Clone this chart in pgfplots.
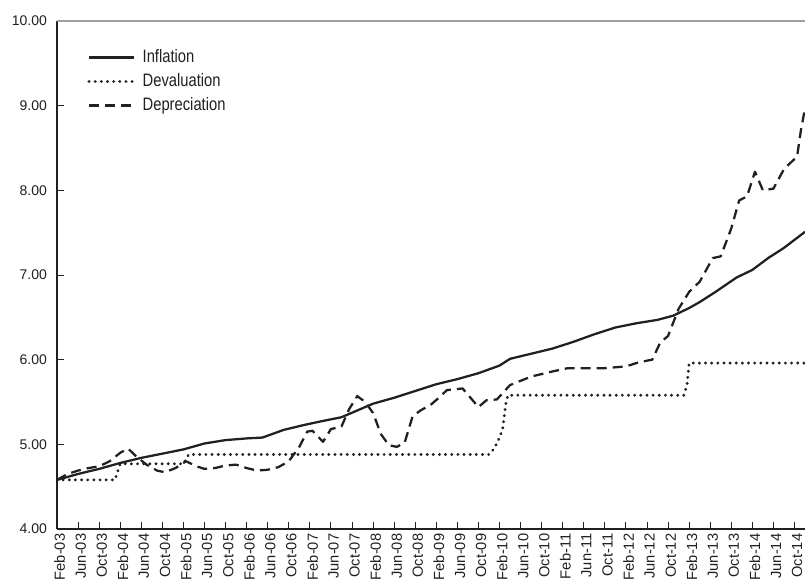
\documentclass[border=0pt]{standalone}
\usepackage{fontspec}
\setmainfont{Liberation Sans}
\newfontfamily\legfont{Liberation Sans}[FakeStretch=0.82]
\usepackage{pgfplots}
\pgfplotsset{compat=1.18}
\definecolor{ink}{RGB}{35,31,32}

\begin{document}
\begin{tikzpicture}
\begin{axis}[name=ax, scale only axis, width=561pt, height=381pt,
  xmin=0, xmax=142, ymin=4, ymax=10,
  axis x line*=bottom, axis y line*=left,
  x axis line style={-, ink, line width=0.9pt},
  y axis line style={-, ink, line width=0.9pt},
  xtick={0,4,...,140},
  xticklabels={Feb-03,Jun-03,Oct-03,Feb-04,Jun-04,Oct-04,Feb-05,Jun-05,Oct-05,Feb-06,Jun-06,Oct-06,Feb-07,Jun-07,Oct-07,Feb-08,Jun-08,Oct-08,Feb-09,Jun-09,Oct-09,Feb-10,Jun-10,Oct-10,Feb-11,Jun-11,Oct-11,Feb-12,Jun-12,Oct-12,Feb-13,Jun-13,Oct-13,Feb-14,Jun-14,Oct-14},
  x tick label style={rotate=90, anchor=east, yshift=-2pt, font=\fontsize{11}{12}\selectfont, text=ink},
  ytick={4,5,...,10},
  yticklabel style={/pgf/number format/fixed, /pgf/number format/fixed zerofill, /pgf/number format/precision=2, /pgf/number format/assume math mode=true},
  y tick label style={xshift=-4pt, font=\fontsize{10.5}{12}\selectfont, text=ink},
  xtick align=inside, ytick align=inside,
  tick style={ink, line width=0.7pt},
  major tick length=5pt,
  legend style={draw=none, fill=none, at={(0.035,0.955)}, anchor=north west,
    font=\legfont\fontsize{13.5}{15}\selectfont, text=ink, row sep=2pt,
    nodes={text height=9.5pt, text depth=2.5pt, inner sep=2pt},
    /tikz/every odd column/.append style={column sep=3pt}},
  legend cell align=left,
  legend image code/.code={\draw[#1] (0pt,0pt) -- (34pt,0pt);},
]
\draw[gray!75, line width=0.9pt] (rel axis cs:0,1) -- (rel axis cs:1,1);

\addplot[ink, line width=1.7pt, line join=round] coordinates {
(0,4.58) (4,4.65) (8,4.71) (12,4.78) (16,4.84) (20,4.89) (24,4.94) (28,5.01)
(32,5.05) (36,5.07) (39,5.08) (43,5.17) (47,5.23) (50,5.27) (54,5.32) (57,5.40)
(60,5.48) (64,5.55) (68,5.63) (72,5.71) (76,5.77) (80,5.84) (84,5.93) (86,6.01)
(90,6.07) (94,6.13) (98,6.21) (102,6.30) (106,6.38) (110,6.43) (114,6.47) (117,6.52)
(120,6.61) (122,6.68) (125,6.80) (129,6.97) (132,7.06) (135,7.20) (138,7.32) (142,7.51)
};
\addlegendentry{Inflation}

\addplot[ink, line width=2.4pt, line cap=round, dash pattern=on 0.01pt off 4.6pt] coordinates {
(0,4.58) (11,4.58) (12,4.77) (24,4.77) (25,4.88) (82,4.88) (83,4.95) (84,5.08)
(84.6,5.18) (85.2,5.48) (85.6,5.58) (119,5.58) (119.6,5.70) (120,5.96) (142,5.96)
};
\addlegendentry{Devaluation}

\addplot[ink, line width=1.7pt, line join=round, dash pattern=on 7.5pt off 4.5pt] coordinates {
(0,4.58) (2,4.65) (4,4.69) (6,4.72) (8,4.74) (10,4.80) (12,4.90) (13.5,4.95)
(15,4.86) (17,4.76) (19,4.69) (20.5,4.67) (22.5,4.72) (24.5,4.80) (26.5,4.74) (28,4.71)
(30,4.72) (32,4.75) (34,4.76) (36,4.72) (38,4.69) (40,4.70) (42,4.73) (44,4.80)
(46,4.97) (47.5,5.15) (48.5,5.16) (50.5,5.03) (52,5.18) (54,5.21) (55.5,5.42) (57,5.57)
(58.5,5.50) (60,5.37) (61.5,5.12) (63,4.99) (64.5,4.97) (66,5.02) (67.5,5.33) (69,5.40)
(71,5.47) (72.5,5.55) (74,5.64) (77,5.66) (80,5.44) (81.5,5.52) (83.5,5.53) (86,5.70)
(90,5.80) (94,5.86) (97,5.90) (104,5.90) (108,5.92) (110.5,5.97) (113,6.00) (114.5,6.20)
(116,6.28) (118,6.60) (120,6.80) (122,6.92) (124.5,7.20) (126,7.22) (128,7.55) (129.5,7.88)
(131,7.93) (132.5,8.22) (134,8.00) (136,8.02) (138,8.25) (140.5,8.40) (141.2,8.70) (142,8.97)
};
\addlegendentry{Depreciation}
\end{axis}
\pgfresetboundingbox
\path ([xshift=-42.75pt,yshift=-42pt]ax.south west) rectangle ([yshift=15.75pt]ax.north east);
\end{tikzpicture}
\end{document}
